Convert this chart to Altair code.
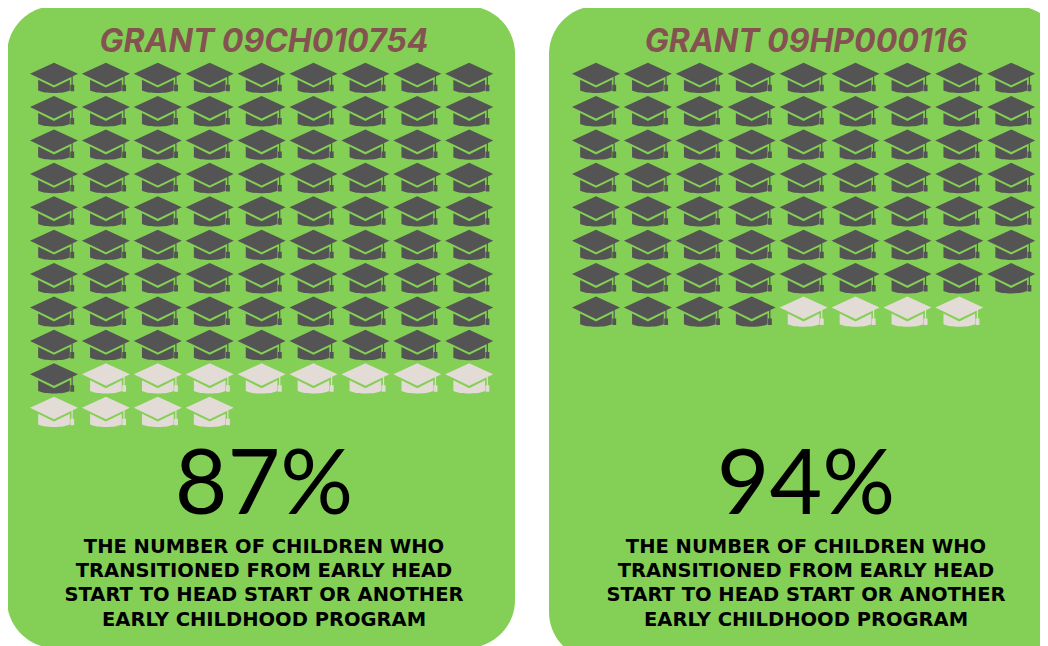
import altair as alt
import pandas as pd

GREEN = "#84CF55"; DARK = "#545454"; LIGHT = "#E3DBD5"; TITLE = "#855252"

grants = ["GRANT 09CH010754", "GRANT 09HP000116"]
percents = ["87%", "94%"]
dark_counts = [82, 67]
light_counts = [12, 4]
body_lines = ["THE NUMBER OF CHILDREN WHO", "TRANSITIONED FROM EARLY HEAD",
              "START TO HEAD START OR ANOTHER", "EARLY CHILDHOOD PROGRAM"]
columns_per_row = 9
panel_gap_in_columns = 542 / 51.9

HAT = ("M0 -0.64 L1 -0.18 L0 0.3 L-1 -0.18 Z "
       "M-0.66 0.07 L0 0.4 L0.66 0.07 L0.66 0.52 C0.4 0.66 -0.4 0.66 -0.66 0.52 Z "
       "M0.73 -0.1 L0.78 -0.12 L0.78 0.28 L0.84 0.28 L0.84 0.55 L0.68 0.55 L0.68 0.28 L0.73 0.28 Z")

rows = []
for p, (d, l) in enumerate(zip(dark_counts, light_counts)):
    for i in range(d + l):
        rows.append({"col": i % columns_per_row + p * panel_gap_in_columns,
                     "row": i // columns_per_row,
                     "kind": "dark" if i < d else "light"})
hats = pd.DataFrame(rows)

W, H = 1032, 638
px = alt.Scale(domain=[8, 8 + W], range=[0, W], nice=False, zero=False)
py = alt.Scale(domain=[8, 8 + H], range=[0, H], nice=False, zero=False)

panel_df = pd.DataFrame({"x": [7, 549], "x2": [515, 1063], "y": [6, 6], "y2": [648, 660]})
panels = alt.Chart(panel_df).mark_rect(color=GREEN, cornerRadius=48).encode(
    x=alt.X("x:Q", scale=px, axis=None), x2="x2:Q",
    y=alt.Y("y:Q", scale=py, axis=None), y2="y2:Q")

hat_x = alt.Scale(domain=[(8 - 54) / 51.9, (8 + W - 54) / 51.9], range=[0, W], nice=False, zero=False)
hat_y = alt.Scale(domain=[(8 - 78) / 33.4, (8 + H - 78) / 33.4], range=[0, H], nice=False, zero=False)
hat_layer = alt.Chart(hats).mark_point(shape=HAT, filled=True, opacity=1, size=48 * 48, strokeWidth=0).encode(
    x=alt.X("col:Q", scale=hat_x, axis=None),
    y=alt.Y("row:Q", scale=hat_y, axis=None),
    color=alt.Color("kind:N", scale=alt.Scale(domain=["dark", "light"], range=[DARK, LIGHT]), legend=None))

cx = [264, 806]
title_df = pd.DataFrame({"x": cx, "y": [42, 42], "t": grants})
titles = alt.Chart(title_df).mark_text(font="Inter", fontSize=32, fontWeight="bold", fontStyle="italic",
                                       color=TITLE, baseline="middle", align="center").encode(
    x=alt.X("x:Q", scale=px, axis=None), y=alt.Y("y:Q", scale=py, axis=None), text="t:N")

pct_df = pd.DataFrame({"x": cx, "y": [487, 487], "t": percents})
pcts = alt.Chart(pct_df).mark_text(font="Lato", fontSize=91, color="#000000", baseline="middle", align="center").encode(
    x=alt.X("x:Q", scale=px, axis=None), y=alt.Y("y:Q", scale=py, axis=None), text="t:N")

line_y = [547, 571, 595, 620]
body_df = pd.DataFrame([{"x": c, "y": y, "t": t} for c in cx for y, t in zip(line_y, body_lines)])
body = alt.Chart(body_df).mark_text(font="DejaVu Sans", fontSize=19.5, fontWeight="bold", color="#000000",
                                    baseline="middle", align="center").encode(
    x=alt.X("x:Q", scale=px, axis=None), y=alt.Y("y:Q", scale=py, axis=None), text="t:N")

chart = alt.layer(panels, hat_layer, titles, pcts, body).resolve_scale(x="independent", y="independent").properties(
    width=W, height=H, padding=0, background="#FFFFFF",
    autosize=alt.AutoSizeParams(type="none")).configure_view(stroke=None)
chart.save("out.html", embed_options={"renderer": "svg", "actions": False})
